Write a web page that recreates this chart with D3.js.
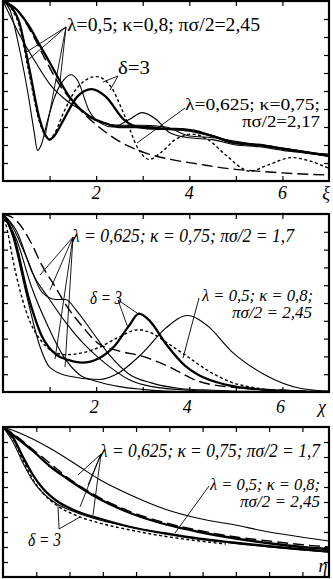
<!DOCTYPE html>
<html>
<head>
<meta charset="utf-8">
<script src="https://cdn.jsdelivr.net/npm/d3@7"></script>
<style>
  body { margin: 0; background: #fff; }
</style>
</head>
<body>
<div id="chart"></div>
<script>
// ---- panel 1 (xi) ----
var xiThinA_x = [0, 0.15, 0.34, 0.56, 0.67, 0.74, 0.82, 0.95, 1.1, 1.3, 1.46, 1.6, 1.85, 2.1, 2.35, 2.7, 2.99, 3.3, 3.57, 4.0, 4.5, 5.0, 5.5, 6.0, 6.5, 7.0];
var xiThinA_y = [1, 0.95, 0.75, 0.45, 0.27, 0.17, 0.2, 0.33, 0.46, 0.56, 0.59, 0.56, 0.39, 0.32, 0.3, 0.34, 0.38, 0.34, 0.27, 0.24, 0.23, 0.2, 0.19, 0.17, 0.155, 0.14];
var xiThickB_x = [0, 0.2, 0.34, 0.56, 0.77, 0.92, 1.0, 1.1, 1.3, 1.6, 1.9, 2.2, 2.6, 2.9, 3.3, 3.7, 4.1, 4.5, 5.0, 5.5, 6.0, 6.5, 7.0];
var xiThickB_y = [1, 0.96, 0.89, 0.63, 0.36, 0.25, 0.23, 0.25, 0.34, 0.47, 0.51, 0.47, 0.34, 0.3, 0.29, 0.29, 0.28, 0.25, 0.21, 0.2, 0.18, 0.16, 0.14];
var xiThickG_x = [0, 0.3, 0.56, 0.8, 1.0, 1.42, 1.85, 2.2, 2.5, 3.0, 3.5, 4.0, 4.5, 5.0, 5.5, 6.0, 6.5, 7.0];
var xiThickG_y = [1, 0.95, 0.86, 0.75, 0.66, 0.47, 0.36, 0.32, 0.3, 0.3, 0.29, 0.28, 0.25, 0.21, 0.2, 0.18, 0.16, 0.14];
var xiThinH_x = [0, 0.34, 0.7, 1.0, 1.35, 1.7, 2.06, 2.5, 3.0, 3.5, 4.0, 4.5, 5.0, 5.5, 6.0, 6.5, 7.0];
var xiThinH_y = [1, 0.82, 0.66, 0.54, 0.45, 0.39, 0.33, 0.31, 0.31, 0.3, 0.25, 0.24, 0.22, 0.2, 0.18, 0.16, 0.15];
var xiDot_x = [0, 0.2, 0.34, 0.56, 0.77, 0.92, 1.0, 1.1, 1.3, 1.6, 2.0, 2.3, 2.6, 2.9, 3.14, 3.4, 3.7, 4.07, 4.4, 4.8, 5.3, 5.7, 6.2, 6.6, 7.0];
var xiDot_y = [1, 0.95, 0.87, 0.6, 0.34, 0.25, 0.23, 0.26, 0.38, 0.52, 0.58, 0.53, 0.37, 0.18, 0.12, 0.16, 0.23, 0.26, 0.23, 0.14, 0.055, 0.09, 0.13, 0.11, 0.07];
var xiDash_x = [0, 0.3, 0.6, 0.9, 1.2, 1.5, 2.06, 2.5, 3.07, 3.6, 4.2, 4.8, 5.3, 6.0, 7.0];
var xiDash_y = [1, 0.95, 0.83, 0.68, 0.54, 0.44, 0.3, 0.22, 0.155, 0.12, 0.094, 0.07, 0.058, 0.045, 0.033];

// ---- panel 2 (chi) ----
var chiDash_x = [0, 0.3, 0.6, 0.84, 1.1, 1.35, 1.7, 2.06, 2.5, 3.0, 3.5, 4.2, 5.0, 6.0, 7.0];
var chiDash_y = [1, 0.96, 0.84, 0.71, 0.6, 0.49, 0.37, 0.27, 0.23, 0.2, 0.15, 0.06, 0.025, 0.01, 0.003];
var chiThinS1_x = [0, 0.2, 0.5, 0.84, 1.14, 1.35, 1.57, 1.91, 2.28, 2.71, 3.2, 3.8, 4.5, 5.5, 7.0];
var chiThinS1_y = [1, 0.93, 0.76, 0.56, 0.52, 0.52, 0.46, 0.34, 0.21, 0.1, 0.05, 0.02, 0.01, 0.003, 0];
var chiThinS2_x = [0, 0.3, 0.63, 1.0, 1.35, 1.7, 2.06, 2.4, 2.7, 3.2, 4.0, 5.0, 7.0];
var chiThinS2_y = [1, 0.9, 0.67, 0.52, 0.39, 0.28, 0.19, 0.12, 0.07, 0.03, 0.01, 0.003, 0];
var chiThick_x = [0, 0.2, 0.56, 0.84, 1.14, 1.4, 1.7, 2.06, 2.4, 2.7, 2.92, 3.15, 3.5, 3.9, 4.2, 4.8, 5.5, 6.2, 7.0];
var chiThick_y = [1, 0.9, 0.52, 0.31, 0.21, 0.18, 0.165, 0.19, 0.26, 0.37, 0.44, 0.4, 0.27, 0.15, 0.095, 0.04, 0.015, 0.005, 0];
var chiDot_x = [0, 0.1, 0.2, 0.5, 0.84, 1.14, 1.35, 1.7, 2.06, 2.5, 2.9, 3.2, 3.5, 3.9, 4.4, 4.9, 5.5, 6.2, 7.0];
var chiDot_y = [1, 0.9, 0.76, 0.45, 0.28, 0.22, 0.21, 0.22, 0.25, 0.31, 0.35, 0.33, 0.28, 0.21, 0.12, 0.055, 0.02, 0.005, 0];
var chiThinT3_x = [0, 0.2, 0.5, 0.8, 1.0, 1.4, 2.06, 2.5, 3.0, 3.5, 3.96, 4.4, 4.9, 5.6, 6.4, 7.0];
var chiThinT3_y = [1, 0.88, 0.55, 0.25, 0.14, 0.09, 0.07, 0.11, 0.22, 0.36, 0.43, 0.37, 0.23, 0.1, 0.02, 0.005];
var chiThinT4_x = [0, 0.3, 0.6, 1.0, 1.3, 1.63, 2.0, 2.5, 3.0, 3.5, 4.5, 7.0];
var chiThinT4_y = [1, 0.85, 0.6, 0.35, 0.2, 0.1, 0.06, 0.03, 0.015, 0.005, 0, 0];

// ---- panel 3 (eta) ----
var etaThinTop_x = [0, 0.5, 1.4, 2.2, 2.9, 3.9, 4.9, 5.9, 6.9, 8.0, 9.0, 9.8];
var etaThinTop_y = [1, 0.96, 0.86, 0.75, 0.65, 0.54, 0.45, 0.39, 0.35, 0.3, 0.265, 0.24];
var etaDash_x = [0, 0.4, 0.9, 1.4, 1.9, 2.9, 3.9, 4.9, 5.9, 6.9, 8.0, 9.0, 9.8];
var etaDash_y = [1, 0.94, 0.85, 0.76, 0.67, 0.53, 0.43, 0.36, 0.31, 0.27, 0.24, 0.215, 0.2];
var etaThickMid_x = [0, 0.4, 0.9, 1.4, 1.9, 2.9, 3.9, 4.9, 5.9, 6.9, 8.0, 9.0, 9.8];
var etaThickMid_y = [1, 0.93, 0.84, 0.74, 0.66, 0.52, 0.42, 0.35, 0.3, 0.26, 0.225, 0.2, 0.185];
var etaThickLow_x = [0, 0.3, 0.6, 0.9, 1.2, 1.6, 2.2, 2.9, 3.9, 4.9, 5.9, 6.9, 8.0, 9.0, 9.8];
var etaThickLow_y = [1, 0.93, 0.8, 0.68, 0.59, 0.51, 0.44, 0.39, 0.33, 0.29, 0.255, 0.23, 0.205, 0.185, 0.17];
var etaThinLow_x = [0, 0.3, 0.6, 0.9, 1.2, 1.6, 2.2, 2.9, 3.9, 4.9, 5.9, 6.9, 8.0, 9.0, 9.8];
var etaThinLow_y = [1, 0.9, 0.76, 0.64, 0.56, 0.49, 0.43, 0.38, 0.33, 0.29, 0.255, 0.225, 0.2, 0.18, 0.165];
var etaDot_x = [0, 0.3, 0.6, 0.9, 1.2, 1.6, 2.2, 2.9, 3.9, 4.9, 5.9, 6.7];
var etaDot_y = [1, 0.92, 0.78, 0.65, 0.56, 0.48, 0.41, 0.36, 0.31, 0.27, 0.24, 0.22];

var xTickLabels = ["2", "4", "6"];

function init() {
  var w = 333, h = 579;
  var serif = "'Liberation Serif', 'Times New Roman', Times, 'DejaVu Serif', serif";
  var svg = d3.select("#chart").append("svg")
    .attr("width", w).attr("height", h);

  var styles = {
    thin:  { width: 1.1, dash: null },
    thick: { width: 2.3, dash: null },
    dot:   { width: 1.4, dash: "3,2.5" },
    dash:  { width: 1.4, dash: "11,5" }
  };

  function zip(xs, ys) { return xs.map(function(x, i){ return [x, ys[i]]; }); }

  function panel(id, top, bottom, xMax, xTicks, series) {
    var xScale = d3.scaleLinear().domain([0, xMax]).range([3, 329]);
    var yScale = d3.scaleLinear().domain([0, 1]).range([bottom, top]);
    var g = svg.append("g");

    g.append("clipPath").attr("id", "clip" + id)
      .append("rect").attr("x", 3).attr("y", top)
      .attr("width", 326).attr("height", bottom - top);

    var line = d3.line()
      .x(function(d){ return xScale(d[0]); })
      .y(function(d){ return yScale(d[1]); })
      .curve(d3.curveMonotoneX);

    g.append("g").attr("clip-path", "url(#clip" + id + ")")
      .selectAll("path").data(series).enter().append("path")
      .attr("d", function(s){ return line(zip(s.x, s.y)); })
      .attr("fill", "none")
      .attr("stroke", "#000")
      .attr("stroke-width", function(s){ return styles[s.style].width; })
      .attr("stroke-dasharray", function(s){ return styles[s.style].dash; });

    // inward ticks on all four sides
    var tl = 5;
    var yt = d3.range(1, 10).map(function(i){ return i / 10; });
    g.append("g").attr("transform", "translate(3,0)")
      .call(d3.axisRight(yScale).tickValues(yt).tickSize(tl).tickFormat(""));
    g.append("g").attr("transform", "translate(329,0)")
      .call(d3.axisLeft(yScale).tickValues(yt).tickSize(tl).tickFormat(""));
    g.append("g").attr("transform", "translate(0," + top + ")")
      .call(d3.axisBottom(xScale).tickValues(xTicks).tickSize(tl).tickFormat(""));
    g.append("g").attr("transform", "translate(0," + bottom + ")")
      .call(d3.axisTop(xScale).tickValues(xTicks).tickSize(tl).tickFormat(""));
    g.selectAll(".domain").remove();
    g.selectAll(".tick line").attr("stroke", "#000").attr("stroke-width", 1.2);

    g.append("rect").attr("x", 3).attr("y", top)
      .attr("width", 326).attr("height", bottom - top)
      .attr("fill", "none").attr("stroke", "#000").attr("stroke-width", 2.2);

    return { g: g, x: xScale, y: yScale };
  }

  function label(g, x, y, txt, opt) {
    opt = opt || {};
    var t = g.append("text").attr("x", x).attr("y", y)
      .attr("font-family", serif)
      .attr("font-size", opt.size || 18)
      .attr("fill", "#000")
      .attr("text-anchor", opt.anchor || "start")
      .text(txt);
    if (opt.italic) t.attr("font-style", "italic");
    if (opt.len) t.attr("textLength", opt.len).attr("lengthAdjust", "spacingAndGlyphs");
    return t;
  }
  function pointers(g, x0, y0, ends) {
    ends.forEach(function(e){
      g.append("line").attr("x1", x0).attr("y1", y0).attr("x2", e[0]).attr("y2", e[1])
        .attr("stroke", "#000").attr("stroke-width", 0.9);
    });
  }

  // panel 1
  var p1 = panel(1, 1, 181, 7, [1,2,3,4,5,6], [
    { x: xiDash_x, y: xiDash_y, style: "dash" },
    { x: xiThinH_x, y: xiThinH_y, style: "thin" },
    { x: xiThinA_x, y: xiThinA_y, style: "thin" },
    { x: xiDot_x, y: xiDot_y, style: "dot" },
    { x: xiThickG_x, y: xiThickG_y, style: "thick" },
    { x: xiThickB_x, y: xiThickB_y, style: "thick" }
  ]);
  xTickLabels.forEach(function(t){
    label(svg, p1.x(+t), 199, t, { anchor: "middle", italic: true });
  });
  label(svg, 326, 199, "ξ", { anchor: "middle", italic: true });
  pointers(svg, 66, 27, [[25,53],[28,60],[45,137],[60,82]]);
  label(svg, 67, 31, "λ=0,5; κ=0,8; πσ/2=2,45", { len: 193 });
  pointers(svg, 118, 76, [[103,82],[110,90]]);
  label(svg, 118, 74, "δ=3", { len: 32 });
  pointers(svg, 185, 108, [[137,143]]);
  label(svg, 185, 110, "λ=0,625; κ=0,75;", { len: 135, size: 16 });
  label(svg, 320, 127, "πσ/2=2,17", { anchor: "end", len: 78, size: 16 });

  // panel 2
  var p2 = panel(2, 214, 392, 7, [1,2,3,4,5,6], [
    { x: chiDash_x, y: chiDash_y, style: "dash" },
    { x: chiThinS1_x, y: chiThinS1_y, style: "thin" },
    { x: chiThinS2_x, y: chiThinS2_y, style: "thin" },
    { x: chiThinT3_x, y: chiThinT3_y, style: "thin" },
    { x: chiThinT4_x, y: chiThinT4_y, style: "thin" },
    { x: chiDot_x, y: chiDot_y, style: "dot" },
    { x: chiThick_x, y: chiThick_y, style: "thick" }
  ]);
  xTickLabels.forEach(function(t){
    label(svg, p2.x(+t) - 2, 413, t, { anchor: "middle", italic: true });
  });
  label(svg, 322, 413, "χ", { anchor: "middle", italic: true });
  pointers(svg, 73, 237, [[40,275],[50,290],[55,359],[65,367]]);
  label(svg, 72, 242, "λ = 0,625; κ = 0,75; πσ/2 = 1,7", { italic: true, len: 222 });
  pointers(svg, 118, 300, [[137,313],[128,328]]);
  label(svg, 90, 304, "δ = 3", { italic: true, len: 32 });
  pointers(svg, 199, 298, [[183,358]]);
  label(svg, 202, 301, "λ = 0,5; κ = 0,8;", { italic: true, len: 111, size: 16 });
  label(svg, 312, 318, "πσ/2 = 2,45", { anchor: "end", italic: true, len: 80, size: 16 });

  // panel 3
  var p3 = panel(3, 427, 577, 9.8, [1,2,3,4,5,6,7,8,9], [
    { x: etaThinTop_x, y: etaThinTop_y, style: "thin" },
    { x: etaDash_x, y: etaDash_y, style: "dash" },
    { x: etaThickMid_x, y: etaThickMid_y, style: "thick" },
    { x: etaThinLow_x, y: etaThinLow_y, style: "thin" },
    { x: etaDot_x, y: etaDot_y, style: "dot" },
    { x: etaThickLow_x, y: etaThickLow_y, style: "thick" }
  ]);
  label(svg, 323, 572, "η", { anchor: "middle", italic: true });
  pointers(svg, 101, 454, [[78,475],[88,485],[80,507],[93,515]]);
  label(svg, 100, 457, "λ = 0,625; κ = 0,75; πσ/2 = 1,7", { italic: true, len: 220 });
  pointers(svg, 209, 486, [[175,533]]);
  label(svg, 210, 490, "λ = 0,5; κ = 0,8;", { italic: true, len: 110, size: 16 });
  label(svg, 320, 507, "πσ/2 = 2,45", { anchor: "end", italic: true, len: 80, size: 16 });
  pointers(svg, 59, 529, [[58,505],[80,517]]);
  label(svg, 28, 546, "δ = 3", { italic: true, len: 33 });
}

window.onload = init;
</script>
</body>
</html>
